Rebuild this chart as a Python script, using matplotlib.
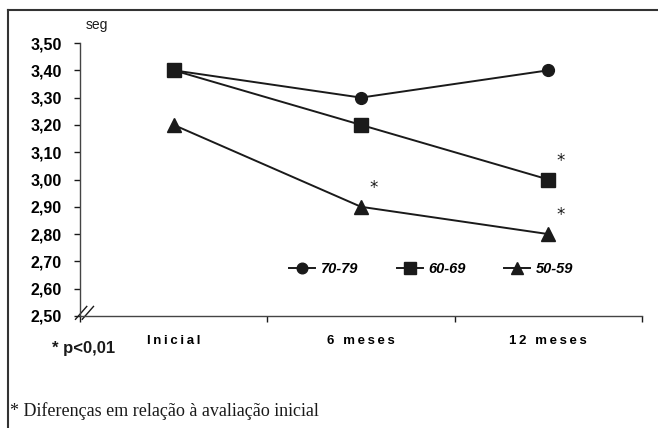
import numpy as np
import matplotlib
matplotlib.use('Agg')
import matplotlib.pyplot as plt
from matplotlib.lines import Line2D

# data
categories = ['Inicial', '6 meses', '12 meses']
groups = ['70-79', '60-69', '50-59']
v_70_79 = [3.40, 3.30, 3.40]
v_60_69 = [3.40, 3.20, 3.00]
v_50_59 = [3.20, 2.90, 2.80]
# points flagged with an asterisk (group, category index)
signif = [('50-59', 1), ('60-69', 2), ('50-59', 2)]
y_ticks = [2.50, 2.60, 2.70, 2.80, 2.90, 3.00, 3.10, 3.20, 3.30, 3.40, 3.50]

INK = '#1a1a1a'
LW = 1.4

plt.rcParams['font.family'] = ['Liberation Sans', 'DejaVu Sans']


def spaced(s):
    # wide letter spacing as in the original
    return '\u2009'.join(s)


fig = plt.figure(figsize=(6.58, 4.28), dpi=100)
ax = fig.add_axes([0.1216, 0.2617, 0.8541, 0.6378])

series = {'70-79': v_70_79, '60-69': v_60_69, '50-59': v_50_59}
markers = {'70-79': 'o', '60-69': 's', '50-59': '^'}
msizes = {'70-79': 8.5, '60-69': 9.5, '50-59': 9.5}
x = np.arange(len(categories))

for g in groups:
    ax.plot(x, series[g], '-', color=INK, lw=LW, marker=markers[g],
            ms=msizes[g], mfc=INK, mec=INK, label=g, zorder=3)

for g, i in signif:
    ax.annotate('*', (x[i], series[g][i]), xytext=(9, 7),
                textcoords='offset points', fontsize=12, color=INK,
                family='DejaVu Sans', ha='center', va='bottom')

ax.set_xlim(-0.5, len(categories) - 0.5)
ax.set_ylim(2.50, 3.50)
ax.set_yticks(y_ticks)
ax.set_yticklabels([('%.2f' % v).replace('.', ',') for v in y_ticks],
                   fontsize=11.5, fontweight='bold')
ax.set_xticks(x)
ax.set_xticklabels([spaced(c) for c in categories], fontsize=9.5,
                   fontweight='bold')
ax.tick_params(axis='x', length=0, pad=14)
ax.set_xticks(np.arange(len(categories) + 1) - 0.5, minor=True)
ax.tick_params(axis='x', which='minor', length=4, width=1, color=INK)
ax.tick_params(axis='y', length=4, width=1, color=INK, pad=9)
for s in ['top', 'right']:
    ax.spines[s].set_visible(False)
for s in ['left', 'bottom']:
    ax.spines[s].set_color('#444444')
    ax.spines[s].set_linewidth(1.0)

ax.text(0.01, 1.04, 'seg', transform=ax.transAxes, fontsize=10,
        color=INK, va='bottom')

# axis break mark
for dx in [0.0, 0.012]:
    ax.plot([-0.008 + dx, 0.012 + dx], [-0.012, 0.035], color=INK, lw=1.0,
            transform=ax.transAxes, clip_on=False)

leg = ax.legend(loc='center', bbox_to_anchor=(0.625, 0.173), ncol=3,
                frameon=False, handlelength=1.8, columnspacing=2.6,
                handletextpad=0.4, markerscale=0.9,
                prop={'size': 10.5, 'weight': 'bold', 'style': 'italic'})

fig.text(52 / 658, 1 - 349 / 428, '* p<0,01', fontsize=12,
         fontweight='bold', color=INK, va='center')
fig.text(10 / 658, 1 - 411 / 428, '* Diferenças em relação à avaliação inicial',
         fontsize=13, family='Liberation Serif', color=INK, va='center')

# outer frame (top and left only)
fig.add_artist(Line2D([8 / 658, 1.0], [1 - 10 / 428, 1 - 10 / 428],
                      transform=fig.transFigure, color='#333333', lw=1.5))
fig.add_artist(Line2D([8 / 658, 8 / 658], [0.0, 1 - 10 / 428],
                      transform=fig.transFigure, color='#333333', lw=1.5))

fig.savefig('out.png', dpi=100)
